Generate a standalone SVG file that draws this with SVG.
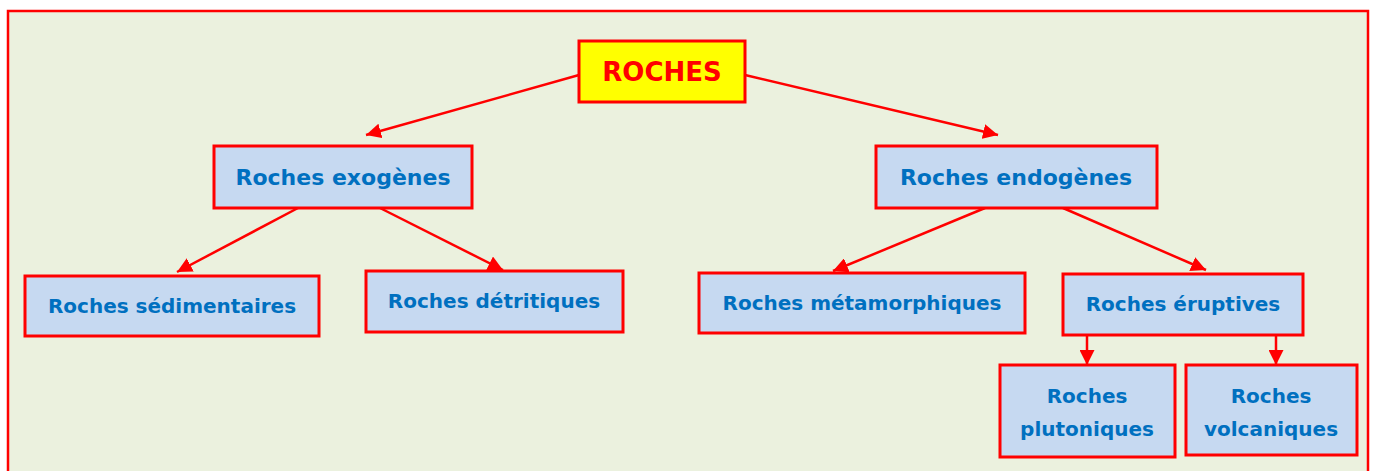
<svg xmlns="http://www.w3.org/2000/svg" width="1375" height="471" viewBox="0 0 1375 471">
<defs>
<marker id="ah" viewBox="0 0 10 10" refX="10" refY="5" markerWidth="6" markerHeight="6" orient="auto" markerUnits="strokeWidth">
<path d="M0,0 L10,5 L0,10 z" fill="#FF0000"/>
</marker>
<style>
.box{fill:#C6D9F1;stroke:#FF0000;stroke-width:3}
.root{fill:#FFFF00;stroke:#FF0000;stroke-width:3}
.t{font-family:"Comic Sans MS","DejaVu Sans",sans-serif;font-weight:bold;fill:#0070C0;font-size:20px;text-anchor:middle}
.tr{font-family:"Comic Sans MS","DejaVu Sans",sans-serif;font-weight:bold;fill:#FF0000;font-size:26px;text-anchor:middle}
.c{stroke:#FF0000;stroke-width:2.5;fill:none;marker-end:url(#ah)}
</style>
</defs>
<rect x="0" y="0" width="1375" height="471" fill="#FFFFFF"/>
<rect x="8" y="11" width="1360" height="470" fill="#EBF1DE" stroke="#FF0000" stroke-width="2.5"/>
<g id="connectors">
<line class="c" x1="579" y1="75" x2="366" y2="135"/>
<line class="c" x1="745" y1="75" x2="998" y2="135"/>
<line class="c" x1="298" y1="208" x2="177" y2="272"/>
<line class="c" x1="380" y1="208" x2="503" y2="270"/>
<line class="c" x1="985" y1="208" x2="833" y2="271"/>
<line class="c" x1="1063" y1="208" x2="1206" y2="270"/>
<line class="c" x1="1087" y1="335" x2="1087" y2="365"/>
<line class="c" x1="1276" y1="335" x2="1276" y2="365"/>
</g>
<g id="roches"><rect class="root" x="579" y="41" width="166" height="61"/><text class="tr" x="662" y="81">ROCHES</text></g>
<g id="exogenes"><rect class="box" x="214" y="146" width="258" height="62"/><text class="t" x="343" y="185" style="font-size:22px">Roches exogènes</text></g>
<g id="endogenes"><rect class="box" x="876" y="146" width="281" height="62"/><text class="t" x="1016" y="185" style="font-size:22px">Roches endogènes</text></g>
<g id="sedimentaires"><rect class="box" x="25" y="276" width="294" height="60"/><text class="t" x="172" y="313">Roches sédimentaires</text></g>
<g id="detritiques"><rect class="box" x="366" y="271" width="257" height="61"/><text class="t" x="494" y="308">Roches détritiques</text></g>
<g id="metamorphiques"><rect class="box" x="699" y="273" width="326" height="60"/><text class="t" x="862" y="310">Roches métamorphiques</text></g>
<g id="eruptives"><rect class="box" x="1063" y="274" width="240" height="61"/><text class="t" x="1183" y="311">Roches éruptives</text></g>
<g id="plutoniques"><rect class="box" x="1000" y="365" width="175" height="92"/><text class="t" x="1087" y="403">Roches</text><text class="t" x="1087" y="436">plutoniques</text></g>
<g id="volcaniques"><rect class="box" x="1186" y="365" width="171" height="90"/><text class="t" x="1271" y="403">Roches</text><text class="t" x="1271" y="436">volcaniques</text></g>
</svg>
